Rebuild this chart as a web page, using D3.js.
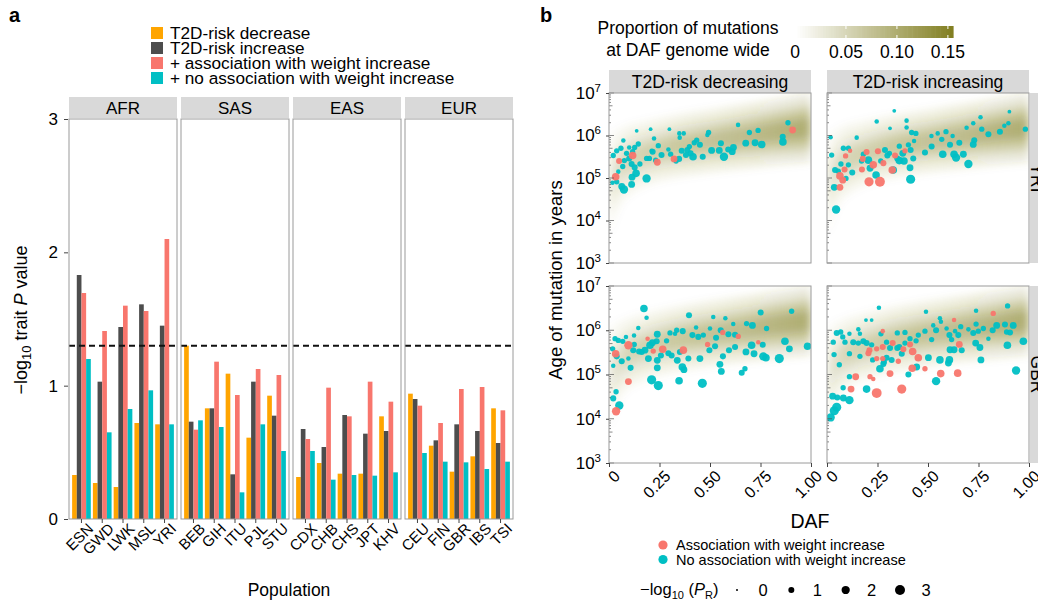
<!DOCTYPE html>
<html>
<head>
<meta charset="utf-8">
<script src="https://cdn.jsdelivr.net/npm/d3@7"></script>
<style>
  body { margin: 0; background: #fff; }
  svg text { font-family: "Liberation Sans", Arial, Helvetica, sans-serif; fill: #000; }
</style>
</head>
<body>
<svg id="chart" width="1038" height="600"></svg>
<script>
// ---------- panel a data ----------
const superPops = ["AFR", "SAS", "EAS", "EUR"];
const popLabels = ["ESN", "GWD", "LWK", "MSL", "YRI",
                   "BEB", "GIH", "ITU", "PJL", "STU",
                   "CDX", "CHB", "CHS", "JPT", "KHV",
                   "CEU", "FIN", "GBR", "IBS", "TSI"];
const riskDecrease  = [0.33, 0.27, 0.24, 0.72, 0.71,  1.30, 0.83, 1.09, 0.61, 0.925,  0.315, 0.42, 0.34, 0.34, 0.77,  0.94, 0.55, 0.355, 0.47, 0.83];
const riskIncrease  = [1.83, 1.03, 1.44, 1.61, 1.45,  0.73, 0.83, 0.335, 1.03, 0.775, 0.675, 0.54, 0.78, 0.64, 0.66,  0.90, 0.59, 0.71, 0.66, 0.57];
const weightAssoc   = [1.695, 1.41, 1.60, 1.56, 2.10, 0.67, 1.18, 0.93, 1.125, 1.08,  0.60, 0.985, 0.77, 1.03, 0.88, 0.85, 0.72, 0.975, 0.99, 0.815];
const noWeightAssoc = [1.20, 0.65, 0.825, 0.965, 0.71, 0.74, 0.69, 0.20, 0.71, 0.51,  0.51, 0.295, 0.33, 0.325, 0.35, 0.495, 0.43, 0.425, 0.375, 0.43];
const seriesNames = ["T2D-risk decrease", "T2D-risk increase",
                     "+ association with weight increase", "+ no association with weight increase"];
const seriesColors = ["#FFA500", "#4D4D4D", "#F8766D", "#00BFC4"];
const threshold = 1.3;
const aTicks = [0, 1, 2, 3];

// ---------- panel b data ----------
// each point: [DAF, log10(age in years), -log10(P_R)]
const yriDecAssoc = [[0.909,6.13,0.77],[0.05,5.40,0.55],[0.117,5.53,1.0],[0.239,5.37,0.77],[0.322,5.45,0.77],[0.033,5.03,1.0]];
const yriDecNoAssoc = [[0.886,6.30,0.38],[0.86,5.97,0.55],[0.861,5.85,1.0],[0.756,5.79,1.0],[0.723,5.83,0.77],[0.677,5.82,0.77],[0.738,6.12,0.38],[0.695,6.07,0.38],[0.639,6.25,0.22],[0.616,5.72,0.77],[0.61,5.62,0.77],[0.59,5.67,0.55],[0.554,5.82,0.55],[0.546,5.65,0.77],[0.569,5.50,1.26],[0.508,5.65,0.77],[0.464,5.50,0.55],[0.493,6.07,0.38],[0.487,6.01,0.22],[0.45,5.78,0.55],[0.434,5.89,0.38],[0.422,5.83,0.38],[0.416,5.50,1.0],[0.404,5.58,0.55],[0.388,5.66,0.55],[0.381,5.54,0.55],[0.398,5.74,0.38],[0.37,6.05,0.22],[0.35,5.95,0.22],[0.348,6.05,0.22],[0.299,6.15,0.1],[0.347,5.45,0.55],[0.332,5.40,0.38],[0.305,5.56,0.38],[0.294,5.67,0.22],[0.26,5.54,0.55],[0.244,5.76,0.38],[0.231,5.42,0.38],[0.223,5.93,0.22],[0.216,5.62,0.55],[0.206,6.15,0.1],[0.2,5.46,0.38],[0.186,4.99,1.26],[0.137,6.11,0.1],[0.145,5.80,0.38],[0.127,5.72,0.38],[0.117,5.62,0.38],[0.134,5.11,1.0],[0.114,5.02,0.77],[0.112,4.85,0.77],[0.071,5.88,0.22],[0.1,5.72,0.22],[0.087,5.58,0.38],[0.1,5.46,0.55],[0.112,5.33,0.55],[0.127,5.25,0.55],[0.153,5.33,0.38],[0.074,4.73,1.26],[0.063,4.80,0.77],[0.038,4.91,0.38],[0.017,4.89,0.22],[0.059,5.70,0.38],[0.038,5.64,0.38],[0.021,5.53,0.38],[0.076,5.41,0.38],[0.068,5.27,0.38],[0.046,5.15,0.22],[0.211,5.64,0.22],[0.36,5.64,0.55],[0.186,5.46,0.38]];
const yriIncAssoc = [[0.114,5.64,0.22],[0.092,5.52,0.38],[0.087,5.20,0.55],[0.064,5.05,1.0],[0.078,4.95,0.77],[0.064,4.78,0.77],[0.177,5.45,0.55],[0.173,5.20,0.55],[0.196,5.61,0.55],[0.229,5.31,1.0],[0.208,4.91,1.56],[0.262,4.91,1.88],[0.252,5.63,0.55],[0.279,5.35,0.55],[0.323,5.19,1.0],[0.337,5.53,0.55],[0.386,5.64,0.38]];
const yriIncNoAssoc = [[0.333,6.58,0.1],[0.246,6.33,0.22],[0.312,6.17,0.1],[0.394,6.35,0.22],[0.394,6.19,0.22],[0.419,6.07,0.38],[0.44,6.05,0.38],[0.147,5.95,0.22],[0.018,5.96,0.22],[0.023,5.54,0.38],[0.04,5.19,0.55],[0.036,4.78,0.77],[0.045,4.26,1.26],[0.081,5.70,0.38],[0.106,5.70,0.38],[0.069,5.33,0.38],[0.106,5.31,0.38],[0.094,4.99,0.38],[0.125,5.13,0.55],[0.056,5.16,0.38],[0.18,5.56,0.38],[0.205,5.42,1.0],[0.213,5.23,0.77],[0.243,5.07,1.0],[0.266,5.40,0.38],[0.287,5.66,0.55],[0.309,5.58,0.38],[0.328,5.19,1.0],[0.348,5.46,0.55],[0.358,5.75,0.38],[0.375,5.58,0.77],[0.381,5.40,1.0],[0.403,5.78,0.38],[0.414,5.66,0.55],[0.427,5.46,0.55],[0.411,5.24,0.77],[0.414,4.97,1.56],[0.431,5.87,0.22],[0.485,5.60,0.55],[0.518,5.74,0.55],[0.517,5.99,0.22],[0.548,6.05,0.22],[0.573,5.56,1.0],[0.568,5.91,0.38],[0.589,6.09,0.38],[0.609,5.78,0.55],[0.622,5.99,0.22],[0.629,5.56,1.0],[0.639,5.48,1.26],[0.655,5.83,0.55],[0.675,5.56,0.77],[0.7,5.33,1.26],[0.691,6.18,0.22],[0.724,6.29,0.22],[0.729,5.89,0.55],[0.724,5.79,0.77],[0.76,6.43,0.22],[0.766,6.15,0.38],[0.799,6.03,0.55],[0.856,6.09,0.55],[0.878,6.23,0.22],[0.898,6.29,0.22],[0.903,6.56,0.1],[0.982,6.15,0.38],[0.299,5.53,0.55],[0.358,5.41,1.0],[0.171,5.40,0.38]];
const gbrDecAssoc = [[0.033,5.47,1.0],[0.096,5.66,1.26],[0.096,4.84,0.77],[0.035,4.17,1.26],[0.191,5.81,0.22],[0.219,5.53,0.38],[0.266,5.57,1.0],[0.368,5.55,1.0],[0.488,5.68,0.38],[0.563,5.95,0.38],[0.64,5.86,0.38],[0.739,5.73,0.22]];
const gbrDecNoAssoc = [[0.173,6.49,1.0],[0.186,6.28,0.22],[0.396,6.34,0.55],[0.516,6.30,0.22],[0.576,6.27,0.22],[0.751,6.40,0.55],[0.904,6.43,0.38],[0.681,6.15,0.38],[0.71,6.11,0.77],[0.78,6.04,0.38],[0.615,6.14,0.22],[0.553,6.00,0.55],[0.591,5.91,0.55],[0.624,5.90,0.55],[0.5,6.04,0.22],[0.53,5.83,0.55],[0.467,5.89,0.38],[0.442,5.85,0.55],[0.431,6.06,0.22],[0.413,5.89,0.55],[0.365,5.98,0.55],[0.335,6.00,0.38],[0.327,5.92,0.22],[0.302,5.94,0.38],[0.285,5.76,0.38],[0.239,5.91,0.77],[0.215,5.72,0.77],[0.236,5.75,0.55],[0.203,5.66,1.0],[0.178,5.55,0.77],[0.145,6.05,0.22],[0.125,5.68,0.38],[0.12,5.55,0.55],[0.149,5.52,0.55],[0.162,5.51,0.55],[0.195,5.36,0.77],[0.084,5.85,0.22],[0.068,5.75,0.38],[0.046,5.77,0.38],[0.03,5.81,0.38],[0.018,5.58,0.38],[0.038,5.41,0.55],[0.063,5.30,0.55],[0.021,5.20,0.22],[0.096,5.36,0.22],[0.107,5.15,0.55],[0.035,4.61,0.38],[0.021,4.46,0.55],[0.051,4.30,1.26],[0.239,5.32,0.77],[0.239,5.15,0.77],[0.211,4.88,1.56],[0.244,4.75,1.56],[0.338,5.32,0.77],[0.347,4.86,1.0],[0.363,5.17,1.0],[0.371,5.11,0.77],[0.393,5.36,0.55],[0.351,5.51,0.55],[0.31,5.43,0.55],[0.294,5.48,0.55],[0.257,5.43,0.55],[0.45,5.36,0.77],[0.462,4.80,1.56],[0.497,5.55,0.55],[0.525,5.64,0.55],[0.549,5.23,0.77],[0.556,5.07,0.77],[0.564,5.41,0.55],[0.594,5.55,0.55],[0.624,5.62,0.55],[0.657,5.04,0.55],[0.673,5.13,0.38],[0.678,5.51,0.77],[0.706,5.66,1.0],[0.718,5.47,0.77],[0.761,5.67,0.55],[0.764,5.41,1.26],[0.777,5.38,1.0],[0.843,5.36,1.56],[0.871,5.75,1.0],[0.893,5.58,0.77],[0.983,5.64,1.0],[0.124,5.88,0.22]];
const gbrIncAssoc = [[0.276,5.98,0.22],[0.21,5.55,0.55],[0.205,5.48,0.55],[0.246,5.58,0.38],[0.276,5.62,0.55],[0.246,5.36,0.38],[0.276,5.36,0.38],[0.325,5.71,0.55],[0.353,5.30,0.38],[0.378,5.57,0.55],[0.411,5.68,0.55],[0.424,5.52,1.0],[0.452,5.38,1.0],[0.485,5.13,0.38],[0.422,5.14,1.0],[0.312,5.02,0.77],[0.213,4.95,0.38],[0.229,4.90,0.22],[0.142,4.95,0.77],[0.119,4.67,0.77],[0.246,4.58,1.88],[0.37,4.67,1.56],[0.563,5.02,1.0],[0.647,5.03,1.0],[0.655,5.68,0.77],[0.629,6.23,0.22],[0.823,6.38,0.38]];
const gbrIncNoAssoc = [[0.257,6.51,0.22],[0.49,6.42,0.22],[0.738,6.44,0.22],[0.894,6.55,0.38],[0.193,6.23,0.1],[0.221,6.23,0.1],[0.559,6.27,0.22],[0.564,6.19,0.22],[0.048,5.94,0.55],[0.068,5.96,0.38],[0.031,5.73,0.38],[0.078,5.85,0.38],[0.089,5.73,0.38],[0.111,5.92,0.22],[0.155,6.02,0.22],[0.163,5.92,0.22],[0.13,5.73,0.55],[0.155,5.71,0.38],[0.18,5.75,0.55],[0.196,5.71,0.55],[0.221,5.67,0.38],[0.267,5.92,0.38],[0.295,5.73,0.38],[0.312,5.60,0.55],[0.348,5.94,0.38],[0.386,5.95,0.38],[0.386,5.71,0.38],[0.358,5.62,0.55],[0.348,5.60,0.55],[0.37,5.47,0.55],[0.32,5.33,0.55],[0.282,5.28,0.55],[0.262,5.13,1.0],[0.279,5.24,0.55],[0.226,5.33,0.38],[0.163,5.41,0.38],[0.111,5.47,0.38],[0.035,5.45,0.38],[0.061,5.22,0.38],[0.111,4.95,0.38],[0.08,4.70,0.38],[0.196,4.67,1.0],[0.028,4.51,0.77],[0.051,4.48,0.55],[0.081,4.47,0.77],[0.111,4.42,1.26],[0.048,4.26,1.56],[0.036,4.18,1.56],[0.018,4.03,1.26],[0.403,5.00,0.55],[0.444,5.17,0.77],[0.54,4.85,1.26],[0.502,5.38,0.77],[0.559,5.33,1.0],[0.606,5.33,1.0],[0.601,5.26,0.77],[0.609,5.56,0.77],[0.629,5.56,0.77],[0.606,5.89,0.55],[0.65,5.89,0.55],[0.667,5.55,0.55],[0.617,5.79,0.38],[0.411,5.81,0.38],[0.441,5.76,0.38],[0.452,5.89,0.38],[0.485,5.98,0.38],[0.518,5.79,0.38],[0.526,6.11,0.22],[0.54,6.00,0.55],[0.592,6.04,0.22],[0.634,5.98,0.22],[0.662,6.08,0.38],[0.7,6.02,0.22],[0.724,5.94,0.55],[0.736,5.71,0.77],[0.749,5.98,0.38],[0.757,5.61,0.77],[0.762,5.33,0.77],[0.738,6.14,0.38],[0.774,6.04,0.38],[0.799,5.81,0.22],[0.82,6.00,0.55],[0.84,6.11,0.77],[0.881,6.13,0.55],[0.889,5.96,0.38],[0.893,5.66,1.0],[0.906,5.95,0.55],[0.922,6.11,0.77],[0.936,5.09,1.26],[0.972,5.75,1.0],[0.295,5.38,0.55]];

// genome-wide density band: DAF knots, centre and half width in log10 years
const bandDaf   = [0, 0.05, 0.1, 0.2, 0.35, 0.5, 0.7, 0.85, 1.0];
const yriBandMid  = [4.8, 5.27, 5.45, 5.62, 5.77, 5.87, 6.0, 6.1, 6.19];
const yriBandHalf = [0.75, 0.55, 0.5, 0.45, 0.45, 0.45, 0.47, 0.48, 0.5];
const gbrBandMid  = [4.9, 5.35, 5.5, 5.67, 5.82, 5.93, 6.05, 6.14, 6.22];
const gbrBandHalf = [0.72, 0.52, 0.48, 0.45, 0.45, 0.45, 0.46, 0.47, 0.48];
const bandShade   = [0.2, 0.3, 0.4, 0.45, 0.55, 0.62, 0.72, 0.82, 0.92];

const dafTicks = [0, 0.25, 0.5, 0.75, 1];
const dafTickLabels = ["0", "0.25", "0.50", "0.75", "1.00"];
const ageTicks = [1e3, 1e4, 1e5, 1e6, 1e7];
const colorbarTicks = [0, 0.05, 0.10, 0.15];
const colorbarLabels = ["0", "0.05", "0.10", "0.15"];
const sizeLegend = [0, 1, 2, 3];

const OLIVE = "#807d1e", STRIP = "#d9d9d9", BORDER = "#9a9a9a";
const RED = "#F8766D", CYAN = "#00BFC4";

const svg = d3.select("#chart");
const defs = svg.append("defs");

// ================= PANEL a =================
svg.append("text").attr("x", 9).attr("y", 22).attr("font-size", 20).attr("font-weight", "bold").text("a");

// legend
seriesNames.forEach((name, i) => {
    svg.append("rect").attr("x", 151).attr("y", 27 + i * 15).attr("width", 12).attr("height", 12)
        .attr("fill", seriesColors[i]);
    svg.append("text").attr("x", 170).attr("y", 38.5 + i * 15).attr("font-size", 17.2).text(name);
});

const yA = d3.scaleLinear().domain([0, 3]).range([519, 119]);
const panelLeft = [69, 181, 293, 405], panelW = 108;
const seriesValues = [riskDecrease, riskIncrease, weightAssoc, noWeightAssoc];

superPops.forEach((sp, k) => {
    const x0 = panelLeft[k];
    const pops = popLabels.slice(k * 5, k * 5 + 5);
    const xb = d3.scaleBand().domain(pops).range([x0, x0 + panelW]).paddingInner(0.1).paddingOuter(0.15);
    const xs = d3.scaleBand().domain(d3.range(4)).range([0, xb.bandwidth()]);
    const g = svg.append("g");

    g.append("rect").attr("x", x0).attr("y", 97).attr("width", panelW).attr("height", 21).attr("fill", STRIP);
    g.append("text").attr("x", x0 + panelW / 2).attr("y", 114).attr("text-anchor", "middle")
        .attr("font-size", 17).text(sp);

    pops.forEach((p, i) => {
        const idx = k * 5 + i;
        seriesValues.forEach((vals, s) => {
            g.append("rect")
                .attr("x", xb(p) + xs(s))
                .attr("y", yA(vals[idx]))
                .attr("width", xs.bandwidth())
                .attr("height", yA(0) - yA(vals[idx]))
                .attr("fill", seriesColors[s]);
        });
    });

    g.append("line").attr("x1", x0).attr("x2", x0 + panelW)
        .attr("y1", yA(threshold)).attr("y2", yA(threshold))
        .attr("stroke", "#111").attr("stroke-width", 2).attr("stroke-dasharray", "6,4");

    g.append("rect").attr("x", x0).attr("y", yA(3)).attr("width", panelW).attr("height", yA(0) - yA(3))
        .attr("fill", "none").attr("stroke", BORDER).attr("stroke-width", 1);

    const ax = g.append("g").attr("transform", `translate(0,${yA(0)})`)
        .call(d3.axisBottom(xb).tickSize(4).tickSizeOuter(0));
    ax.select(".domain").remove();
    ax.selectAll(".tick line").attr("stroke", "#444");
    ax.selectAll(".tick text").remove();
    pops.forEach(p => {
        const tx = xb(p) + xb.bandwidth() / 2;
        g.append("text")
            .attr("transform", `translate(${tx + 5},${522}) rotate(-45)`)
            .attr("text-anchor", "end").attr("dy", "0.72em")
            .attr("font-size", 15).text(p);
    });
});

// y axis a
const yAxA = svg.append("g").attr("transform", `translate(68,0)`)
    .call(d3.axisLeft(yA).tickValues(aTicks).tickFormat(d3.format("d")).tickSize(4).tickPadding(6));
yAxA.select(".domain").remove();
yAxA.selectAll(".tick line").attr("stroke", "#444");
yAxA.selectAll(".tick text").attr("font-size", 17).attr("font-family", "Liberation Sans, Arial, sans-serif");

const yTitleA = svg.append("text").attr("transform", "translate(27,320) rotate(-90)")
    .attr("text-anchor", "middle").attr("font-size", 18);
yTitleA.append("tspan").text("\u2212log");
yTitleA.append("tspan").attr("font-size", 13).attr("dy", 4).text("10");
yTitleA.append("tspan").attr("dy", -4).text(" trait ");
yTitleA.append("tspan").attr("font-style", "italic").text("P");
yTitleA.append("tspan").text(" value");

svg.append("text").attr("x", 289).attr("y", 596).attr("text-anchor", "middle").attr("font-size", 17.5).text("Population");

// ================= PANEL b =================
svg.append("text").attr("x", 540).attr("y", 22).attr("font-size", 20).attr("font-weight", "bold").text("b");

// colour bar legend
const cbX = d3.scaleLinear().domain([0, 0.155]).range([795, 953]);
const cbColor = d3.scaleLinear().domain([0, 0.155]).range(["#ffffff", OLIVE]);
d3.range(0, 0.155, 0.0025).forEach(v => {
    svg.append("rect").attr("x", cbX(v)).attr("y", 26).attr("width", cbX(0.0025) - cbX(0) + 0.6)
        .attr("height", 12).attr("fill", cbColor(v));
});
colorbarTicks.forEach((t, i) => {
    if (t > 0) {
        svg.append("line").attr("x1", cbX(t)).attr("x2", cbX(t)).attr("y1", 26).attr("y2", 29)
            .attr("stroke", "#fff").attr("stroke-width", 1);
        svg.append("line").attr("x1", cbX(t)).attr("x2", cbX(t)).attr("y1", 35).attr("y2", 38)
            .attr("stroke", "#fff").attr("stroke-width", 1);
    }
    svg.append("text").attr("x", cbX(t)).attr("y", 58).attr("text-anchor", "middle")
        .attr("font-size", 17.5).text(colorbarLabels[i]);
});
svg.append("text").attr("x", 688).attr("y", 34).attr("text-anchor", "middle").attr("font-size", 17.5)
    .text("Proportion of mutations");
svg.append("text").attr("x", 688).attr("y", 56).attr("text-anchor", "middle").attr("font-size", 17.5)
    .text("at DAF genome wide");

// scales
const xB = [d3.scaleLinear().domain([0, 1]).range([609, 811]),
            d3.scaleLinear().domain([0, 1]).range([827, 1029])];
const yB = [d3.scaleLog().domain([1e3, 1e7]).range([263, 93]),
            d3.scaleLog().domain([1e3, 1e7]).range([463, 286])];
const areaOf = d3.scaleLinear().domain([0, 3]).range([1, 25]);
const rOf = v => Math.sqrt(areaOf(v));
const rPoint = v => rOf(v) * 1.15 + 0.35;

// filters / gradients
const blur = defs.append("filter").attr("id", "blur").attr("x", "-20%").attr("y", "-40%")
    .attr("width", "140%").attr("height", "180%");
blur.append("feGaussianBlur").attr("stdDeviation", 4);
const grad = defs.append("linearGradient").attr("id", "bandGrad").attr("x1", 0).attr("x2", 1).attr("y1", 0).attr("y2", 0);
bandDaf.forEach((d, i) => {
    grad.append("stop").attr("offset", d).attr("stop-color", OLIVE).attr("stop-opacity", bandShade[i]);
});

const rows = [
    { name: "YRI", mid: yriBandMid, half: yriBandHalf, sets: [[yriDecNoAssoc, yriDecAssoc], [yriIncNoAssoc, yriIncAssoc]] },
    { name: "GBR", mid: gbrBandMid, half: gbrBandHalf, sets: [[gbrDecNoAssoc, gbrDecAssoc], [gbrIncNoAssoc, gbrIncAssoc]] }
];
const colTitles = ["T2D-risk decreasing", "T2D-risk increasing"];

// column strips
colTitles.forEach((t, c) => {
    const [a, b] = xB[c].range();
    svg.append("rect").attr("x", a).attr("y", 70).attr("width", b - a).attr("height", 23).attr("fill", STRIP);
    svg.append("text").attr("x", (a + b) / 2).attr("y", 88).attr("text-anchor", "middle")
        .attr("font-size", 17.5).text(t);
});

rows.forEach((row, r) => {
    const ys = yB[r];
    const [yBot, yTop] = ys.range();
    // row strip on the right (cut by the figure edge)
    svg.append("rect").attr("x", 1030).attr("y", yTop).attr("width", 24).attr("height", yBot - yTop).attr("fill", STRIP);
    svg.append("text").attr("transform", `translate(1031,${(yTop + yBot) / 2}) rotate(90)`)
        .attr("text-anchor", "middle").attr("font-size", 17.5).text(row.name);

    [0, 1].forEach(c => {
        const xs = xB[c];
        const [xL, xR] = xs.range();
        const clipId = `clip${r}${c}`;
        defs.append("clipPath").attr("id", clipId).append("rect")
            .attr("x", xL).attr("y", yTop).attr("width", xR - xL).attr("height", yBot - yTop);
        const g = svg.append("g");
        g.append("rect").attr("x", xL).attr("y", yTop).attr("width", xR - xL).attr("height", yBot - yTop).attr("fill", "#fff");

        // density band
        const bandG = g.append("g").attr("clip-path", `url(#${clipId})`).append("g").attr("filter", "url(#blur)");
        [[1.6, 0.2], [1.0, 0.3], [0.5, 0.4]].forEach(([k, op]) => {
            const area = d3.area()
                .x((d, i) => xs(bandDaf[i]))
                .y0((d, i) => ys(10 ** (row.mid[i] - k * row.half[i])))
                .y1((d, i) => ys(10 ** (row.mid[i] + k * row.half[i])))
                .curve(d3.curveBasis);
            bandG.append("path").attr("d", area(bandDaf)).attr("fill", "url(#bandGrad)").attr("fill-opacity", op);
        });

        // points
        const [noAssoc, assoc] = row.sets[c];
        const pg = g.append("g").attr("clip-path", `url(#${clipId})`);
        pg.selectAll(".na").data(noAssoc).join("circle")
            .attr("cx", d => xs(d[0])).attr("cy", d => ys(10 ** d[1])).attr("r", d => rPoint(d[2]))
            .attr("fill", CYAN).attr("fill-opacity", 0.95);
        pg.selectAll(".as").data(assoc).join("circle")
            .attr("cx", d => xs(d[0])).attr("cy", d => ys(10 ** d[1])).attr("r", d => rPoint(d[2]))
            .attr("fill", RED).attr("fill-opacity", 0.95);

        // log ticks inside left edge
        for (let e = 3; e < 7; e++) {
            for (let m = 1; m < 10; m++) {
                const v = m * 10 ** e;
                const len = m === 1 ? 5 : (m === 5 ? 3.5 : 2);
                g.append("line").attr("x1", xL).attr("x2", xL + len).attr("y1", ys(v)).attr("y2", ys(v))
                    .attr("stroke", "#555").attr("stroke-width", 0.7);
            }
        }
        g.append("line").attr("x1", xL).attr("x2", xL + 5).attr("y1", ys(1e7)).attr("y2", ys(1e7))
            .attr("stroke", "#555").attr("stroke-width", 0.7);

        g.append("rect").attr("x", xL).attr("y", yTop).attr("width", xR - xL).attr("height", yBot - yTop)
            .attr("fill", "none").attr("stroke", BORDER).attr("stroke-width", 1);

        // bottom axis only on the last row
        if (r === 1) {
            const ax = svg.append("g").attr("transform", `translate(0,${yBot})`)
                .call(d3.axisBottom(xs).tickValues(dafTicks).tickSize(4).tickSizeOuter(0));
            ax.select(".domain").remove();
            ax.selectAll(".tick line").attr("stroke", "#444");
            ax.selectAll(".tick text").remove();
            dafTicks.forEach((t, i) => {
                svg.append("text")
                    .attr("transform", `translate(${xs(t) + 4},${yBot + 6}) rotate(-45)`)
                    .attr("text-anchor", "end").attr("dy", "0.72em")
                    .attr("font-size", 16).text(dafTickLabels[i]);
            });
        }
    });

    // y axis
    const ay = svg.append("g").attr("transform", `translate(${xB[0].range()[0]},0)`)
        .call(d3.axisLeft(ys).tickValues(ageTicks).tickSize(3).tickPadding(5));
    ay.select(".domain").remove();
    ay.selectAll(".tick line").attr("stroke", "#444");
    ay.selectAll(".tick text").each(function (d) {
        const t = d3.select(this).text("").attr("font-size", 17).attr("font-family", "Liberation Sans, Arial, sans-serif");
        t.append("tspan").text("10");
        t.append("tspan").attr("dy", -7).attr("font-size", 11.5).text(Math.round(Math.log10(d)));
    });
});

// axis titles b
svg.append("text").attr("transform", "translate(562,280) rotate(-90)").attr("text-anchor", "middle")
    .attr("font-size", 18.5).text("Age of mutation in years");
svg.append("text").attr("x", 810).attr("y", 528).attr("text-anchor", "middle").attr("font-size", 19.5).text("DAF");

// colour legend
[["Association with weight increase", RED], ["No association with weight increase", CYAN]].forEach(([lab, col], i) => {
    svg.append("circle").attr("cx", 663).attr("cy", 545 + i * 14.5).attr("r", 4.6).attr("fill", col);
    svg.append("text").attr("x", 676).attr("y", 550 + i * 14.5).attr("font-size", 14.5).text(lab);
});

// size legend
const sizeTitle = svg.append("text").attr("x", 640).attr("y", 595).attr("font-size", 16.5);
sizeTitle.append("tspan").text("\u2212log");
sizeTitle.append("tspan").attr("font-size", 11).attr("dy", 4).text("10");
sizeTitle.append("tspan").attr("dy", -4).text(" (");
sizeTitle.append("tspan").attr("font-style", "italic").text("P");
sizeTitle.append("tspan").attr("font-size", 11).attr("dy", 4).text("R");
sizeTitle.append("tspan").attr("dy", -4).text(")");
const sizeX = d3.scalePoint().domain(sizeLegend).range([737, 900]);
sizeLegend.forEach(v => {
    svg.append("circle").attr("cx", sizeX(v)).attr("cy", 590).attr("r", rOf(v)).attr("fill", "#000");
    svg.append("text").attr("x", sizeX(v) + 26).attr("y", 596).attr("text-anchor", "middle")
        .attr("font-size", 16.5).text(v);
});
</script>
</body>
</html>
